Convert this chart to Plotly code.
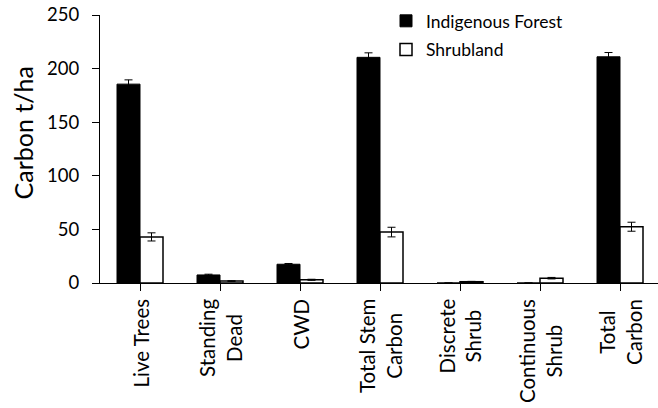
import plotly.graph_objects as go

# Carbon stocks by pool (t/ha) with standard errors
categories = ["Live Trees", "Standing<br>Dead", "CWD", "Total Stem<br>Carbon",
              "Discrete<br>Shrub", "Continuous<br>Shrub", "Total<br>Carbon"]
forest_values = [185.5, 7.5, 17.5, 210.5, 0, 0, 211]
forest_errors = [4, 0.7, 0.7, 4.2, 0, 0, 4]
shrub_values = [43, 1.8, 3, 47.5, 1.2, 4.5, 52.5]
shrub_errors = [3.8, 0.3, 0.5, 4.5, 0.3, 0.7, 4.2]
y_ticks = [0, 50, 100, 150, 200, 250]

FONT = "Lato"
idx = list(range(len(categories)))

fig = go.Figure()
fig.add_trace(go.Bar(
    x=idx, y=forest_values, name="Indigenous Forest",
    marker=dict(color="black", line=dict(color="black", width=1)),
    error_y=dict(type="data", array=forest_errors, color="black",
                 thickness=1, width=4),
    legendgroup="forest",
))
fig.add_trace(go.Bar(
    x=idx, y=shrub_values, name="Shrubland",
    marker=dict(color="white", line=dict(color="black", width=1.5)),
    error_y=dict(type="data", array=shrub_errors, color="black",
                 thickness=1, width=4),
    legendgroup="shrub",
))

# Category labels, rotated and centred line-by-line below the axis
for i, label in enumerate(categories):
    fig.add_annotation(
        x=i, y=0, xref="x", yref="paper",
        text=label, textangle=-90, showarrow=False,
        xanchor="center", yanchor="top", yshift=-14, align="center",
        font=dict(family=FONT, size=20.5, color="black"),
    )

# Y-axis title
fig.add_annotation(
    x=0, y=(283 - 133.5) / 268, xref="paper", yref="paper",
    text="Carbon t/ha", textangle=-90, showarrow=False,
    xanchor="center", yanchor="middle", xshift=-78,
    font=dict(family=FONT, size=25, color="black"),
)

fig.update_layout(
    width=658, height=408,
    margin=dict(l=100, r=0, t=15, b=125),
    paper_bgcolor="white", plot_bgcolor="white",
    barmode="group", bargap=0.425, bargroupgap=0,
    font=dict(family=FONT, color="black"),
    legend=dict(
        x=(386 - 100) / 558, xanchor="left",
        y=1.045, yanchor="top",
        font=dict(family=FONT, size=17.5, color="black"),
        tracegroupgap=3, bgcolor="rgba(0,0,0,0)",
    ),
    showlegend=True,
)
fig.update_xaxes(
    range=[-0.5, 6.475], tickmode="array", tickvals=idx,
    showticklabels=False, ticks="outside", tickson="boundaries",
    ticklen=7, tickcolor="black", showline=True, linecolor="black",
    linewidth=1, showgrid=False, zeroline=False,
)
fig.update_yaxes(
    range=[0, 250], tickmode="array", tickvals=y_ticks,
    ticks="outside", ticklen=7, tickcolor="black",
    showline=True, linecolor="black", linewidth=1,
    showgrid=False, zeroline=False, ticklabelstandoff=9,
    tickfont=dict(family=FONT, size=18.5, color="black"),
)

fig.write_html("out.html")
